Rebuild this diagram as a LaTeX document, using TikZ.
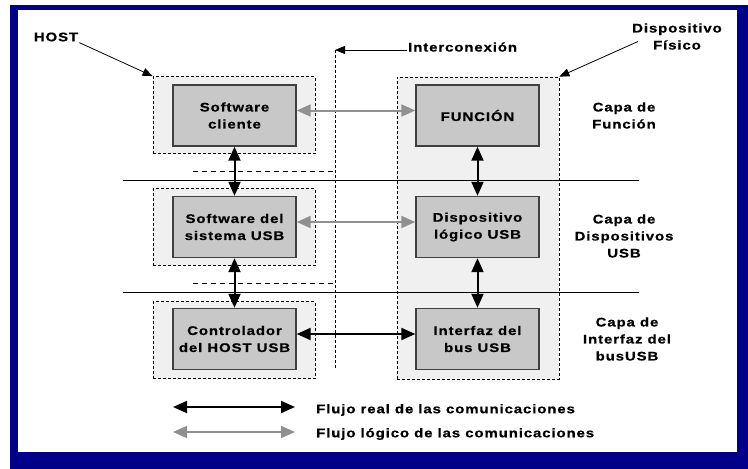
\documentclass[tikz,border=0pt]{standalone}
\usepackage{fontspec}
\setmainfont{Liberation Sans}[FakeStretch=1.2, LetterSpace=7, BoldFeatures={FakeBold=0.6}]
\usetikzlibrary{arrows.meta}

\definecolor{framenavy}{HTML}{000088}
\definecolor{boxgray}{HTML}{C8C8C8}
\definecolor{boxedge}{HTML}{404040}
\definecolor{shade}{HTML}{F0F0F0}
\definecolor{flowgray}{HTML}{909090}

\tikzset{
  txt/.style={font=\fontsize{12.5}{17}\selectfont\bfseries, align=center, inner sep=1pt},
  grp/.style={draw=black, fill=shade, line width=0.8pt, dash pattern=on 3pt off 2pt, inner sep=0pt},
  unit/.style={txt, draw=boxedge, fill=boxgray, line width=1.4pt, minimum width=123pt, minimum height=61pt},
  realflow/.style={line width=2pt, black, {Triangle[length=14pt,width=12pt]}-{Triangle[length=14pt,width=12pt]}},
  logflow/.style={line width=2pt, flowgray, {Triangle[length=14pt,width=12pt]}-{Triangle[length=14pt,width=12pt]}},
  pointer/.style={line width=0.8pt, black, -{Triangle[length=10pt,width=8pt]}},
  layerline/.style={line width=0.8pt, black},
  splitline/.style={line width=0.8pt, black, dash pattern=on 5pt off 4pt},
  busline/.style={line width=0.8pt, black, dash pattern=on 3pt off 2pt}
}

\begin{document}
\begin{tikzpicture}[x=1pt, y=-1pt]
\useasboundingbox (0,0) rectangle (748,469);

% frame
\fill[framenavy] (10,5) rectangle (748,469);
\fill[white] (18,10) rectangle (737,452);

% host side groups
\node[grp, minimum width=162pt, minimum height=77pt] (hg1) at (234,115) {};
\node[grp, minimum width=162pt, minimum height=77pt] (hg2) at (234,227) {};
\node[grp, minimum width=162pt, minimum height=77pt] (hg3) at (234,340) {};
% physical device group
\node[grp, minimum width=162pt, minimum height=302pt] (rg) at (478,228) {};

% layer separators
\coordinate (s1a) at (123,180); \coordinate (s1b) at (639,180);
\coordinate (s2a) at (123,292); \coordinate (s2b) at (639,292);
\draw[layerline] (s1a) -- (s1b);
\draw[layerline] (s2a) -- (s2b);
\coordinate (d1a) at (193,171); \coordinate (d1b) at (335,171);
\coordinate (d2a) at (193,283); \coordinate (d2b) at (335,283);
\draw[splitline] (d1a) -- (d1b);
\draw[splitline] (d2a) -- (d2b);

% interconnect
\coordinate (itop) at (335,50);
\coordinate (ibot) at (335,369);
\draw[busline] (itop) -- (ibot);
\node[txt, anchor=west] (ic) at (407,47) {Interconexión};
\draw[pointer] (ic.west |- itop) -- (itop);

% units
\node[unit] (sc) at (234.5,115.5) {Software\\cliente};
\node[unit] (ss) at (234.5,227) {Software del\\sistema USB};
\node[unit] (hc) at (234.5,339) {Controlador\\del HOST USB};
\node[unit] (fn) at (477.5,115.5) {FUNCIÓN};
\node[unit] (dl) at (477.5,227) {Dispositivo\\lógico USB};
\node[unit] (bi) at (477.5,339) {Interfaz del\\bus USB};

% communication flows
\draw[logflow] ([yshift=5pt]sc.east) -- ([yshift=5pt]fn.west);
\draw[logflow] ([yshift=5pt]ss.east) -- ([yshift=5pt]dl.west);
\draw[realflow] ([yshift=5pt]hc.east) -- ([yshift=5pt]bi.west);
\draw[realflow] (sc.south) -- (ss.north);
\draw[realflow] (ss.south) -- (hc.north);
\draw[realflow] (fn.south) -- (dl.north);
\draw[realflow] (dl.south) -- (bi.north);

% side labels
\node[txt] (host) at (56,37) {HOST};
\draw[pointer] (host.south east) -- (hg1.north west);
\node[txt] (dev) at (677,36.5) {Dispositivo\\Físico};
\draw[pointer] ([xshift=7pt,yshift=-5pt]dev.west) -- (rg.north east);

\node[txt] (lf) at (624,115.5) {Capa de\\Función};
\node[txt] (ld) at (624,236) {Capa de\\Dispositivos\\USB};
\node[txt] (lb) at (627,339) {Capa de\\Interfaz del\\busUSB};

% legend
\coordinate (k1a) at (173,407); \coordinate (k1b) at (295,407);
\coordinate (k2a) at (173,432); \coordinate (k2b) at (295,432);
\draw[realflow] (k1a) -- (k1b);
\draw[logflow] (k2a) -- (k2b);
\node[txt, anchor=west] (kt1) at (315,410) {Flujo real de las comunicaciones};
\node[txt, anchor=west] (kt2) at (315,434) {Flujo lógico de las comunicaciones};
\end{tikzpicture}
\end{document}
